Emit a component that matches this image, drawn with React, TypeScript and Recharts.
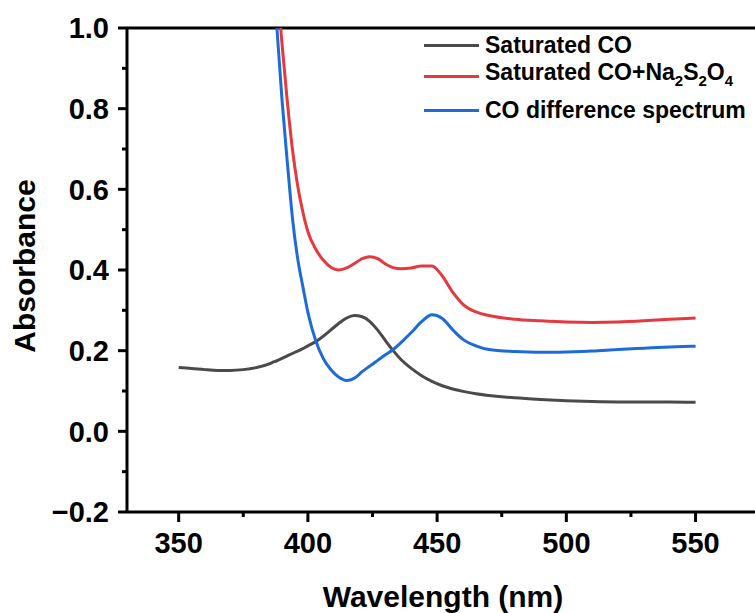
import { LineChart, Line, XAxis, YAxis, Legend, ReferenceLine, Label } from 'recharts';

// wavelength grid (nm)
const wavelengths = [
  350, 355, 360, 365, 370, 375, 380, 385, 386, 388, 390, 392, 394, 396, 398, 400, 403, 406, 409, 412,
  415, 418, 421, 424, 427, 430, 433, 436, 440, 444, 448, 452, 456, 460, 465, 470, 480, 490, 500, 510,
  520, 530, 540, 550,
];

const saturatedCO = [
  0.158, 0.156, 0.153, 0.151, 0.151, 0.153, 0.158, 0.167, 0.17, 0.175, 0.181, 0.187, 0.193, 0.199, 0.205, 0.212,
  0.222, 0.236, 0.252, 0.268, 0.281, 0.287, 0.284, 0.272, 0.251, 0.225, 0.2, 0.178, 0.156, 0.138, 0.124,
  0.113, 0.105, 0.099, 0.093, 0.089, 0.083, 0.079, 0.076, 0.074, 0.073, 0.073, 0.073, 0.072,
];

const saturatedCONa = [
  null, null, null, null, null, null, null, null, 1.25, 1.11, 0.96, 0.82, 0.7, 0.61, 0.545, 0.495,
  0.452, 0.424, 0.406, 0.4, 0.405, 0.416, 0.428, 0.433, 0.428, 0.415, 0.406, 0.403, 0.405, 0.41, 0.41,
  0.385, 0.345, 0.315, 0.296, 0.287, 0.278, 0.274, 0.271, 0.27, 0.271, 0.274, 0.278, 0.281,
];

const differenceSpectrum = [
  null, null, null, null, null, null, null, null, 1.2, 1.0, 0.82, 0.67, 0.53, 0.43, 0.36, 0.295,
  0.225, 0.18, 0.152, 0.134, 0.126, 0.132, 0.148, 0.162, 0.176, 0.19, 0.203, 0.22, 0.245, 0.272, 0.289,
  0.28, 0.252, 0.228, 0.212, 0.203, 0.198, 0.196, 0.197, 0.199, 0.203, 0.206, 0.209, 0.211,
];

const xTicks = [350, 375, 400, 425, 450, 475, 500, 525, 550];
const yTicks = [-0.2, -0.1, 0, 0.1, 0.2, 0.3, 0.4, 0.5, 0.6, 0.7, 0.8, 0.9, 1.0];

const FONT = '"Liberation Sans", Arial, sans-serif';

const series = [
  { key: 'co', color: '#4a4a4a', label: <>Saturated CO</> },
  {
    key: 'na',
    color: '#e5393f',
    label: (
      <>
        Saturated CO+Na<sub style={{ fontSize: 15 }}>2</sub>S<sub style={{ fontSize: 15 }}>2</sub>O
        <sub style={{ fontSize: 15 }}>4</sub>
      </>
    ),
  },
  { key: 'diff', color: '#1c6bd8', label: <>CO difference spectrum</> },
];

const data = wavelengths.map((w, i) => ({
  w,
  co: saturatedCO[i],
  na: saturatedCONa[i],
  diff: differenceSpectrum[i],
}));

const fmt = (v: number) => (v < 0 ? '\u2212' + Math.abs(v).toFixed(1) : v.toFixed(1));

const YTick = (props: any) => {
  const { x, y, payload } = props;
  const major = Math.round(payload.value * 10) % 2 === 0;
  return (
    <g>
      <line x1={x - (major ? 9 : 5)} x2={x} y1={y} y2={y} stroke="#000" strokeWidth={3} />
      {major && (
        <text x={x - 18} y={y} dy="0.36em" textAnchor="end" fontSize={29} fontWeight="bold" fontFamily={FONT} fill="#000">
          {fmt(payload.value)}
        </text>
      )}
    </g>
  );
};

const XTick = (props: any) => {
  const { x, y, payload } = props;
  const major = payload.value % 50 === 0;
  return (
    <g>
      <line x1={x} x2={x} y1={y} y2={y + (major ? 10 : 5)} stroke="#000" strokeWidth={3} />
      {major && (
        <text x={x} y={y + 41} textAnchor="middle" fontSize={29} fontWeight="bold" fontFamily={FONT} fill="#000">
          {payload.value}
        </text>
      )}
    </g>
  );
};

const renderLegend = () => (
  <div style={{ fontFamily: FONT, fontWeight: 'bold', fontSize: 23, color: '#000' }}>
    {series.map((s, i) => (
      <div
        key={s.key}
        style={{ display: 'flex', alignItems: 'center', height: 30, marginTop: i === 1 ? 1 : i === 2 ? 4 : 0, whiteSpace: 'nowrap' }}
      >
        <div style={{ width: 55, height: 3, background: s.color, marginRight: 6 }} />
        <span style={{ lineHeight: '30px' }}>{s.label}</span>
      </div>
    ))}
  </div>
);

export default function App() {
  return (
    <div style={{ position: 'absolute', left: 0, top: 0 }}>
      <LineChart width={755} height={613} data={data} margin={{ top: 28, right: 0, bottom: 0, left: 0 }}>
        <XAxis
          dataKey="w"
          type="number"
          domain={[330, 573]}
          ticks={xTicks}
          allowDataOverflow
          height={101}
          tick={<XTick />}
          tickLine={false}
          tickSize={0}
          tickMargin={0}
          interval={0}
          axisLine={{ stroke: '#000', strokeWidth: 3 }}
        >
          <Label
            content={({ viewBox }: any) => (
              <text
                x={viewBox.x + viewBox.width / 2 + 2}
                y={viewBox.y + 95}
                textAnchor="middle"
                fontSize={30}
                fontWeight="bold"
                fontFamily={FONT}
                fill="#000"
              >
                Wavelength (nm)
              </text>
            )}
          />
        </XAxis>
        <YAxis
          type="number"
          domain={[-0.2, 1]}
          ticks={yTicks}
          allowDataOverflow
          width={127}
          tick={<YTick />}
          tickLine={false}
          tickSize={0}
          tickMargin={0}
          interval={0}
          axisLine={{ stroke: '#000', strokeWidth: 3 }}
        >
          <Label
            content={({ viewBox }: any) => {
              const cx = viewBox.x + 24;
              const cy = viewBox.y + viewBox.height / 2 - 4;
              return (
                <text
                  x={cx}
                  y={cy}
                  dy="0.36em"
                  transform={`rotate(-90 ${cx} ${cy})`}
                  textAnchor="middle"
                  fontSize={30}
                  fontWeight="bold"
                  fontFamily={FONT}
                  fill="#000"
                >
                  Absorbance
                </text>
              );
            }}
          />
        </YAxis>
        <ReferenceLine y={1} stroke="#000" strokeWidth={3} />
        <Legend
          layout="vertical"
          align="center"
          verticalAlign="middle"
          content={renderLegend}
          wrapperStyle={{ position: 'absolute', top: 30, left: 424, width: 331 }}
        />
        {series.map((s) => (
          <Line
            key={s.key}
            dataKey={s.key}
            type="monotone"
            stroke={s.color}
            strokeWidth={3}
            dot={false}
            isAnimationActive={false}
          />
        ))}
      </LineChart>
    </div>
  );
}
